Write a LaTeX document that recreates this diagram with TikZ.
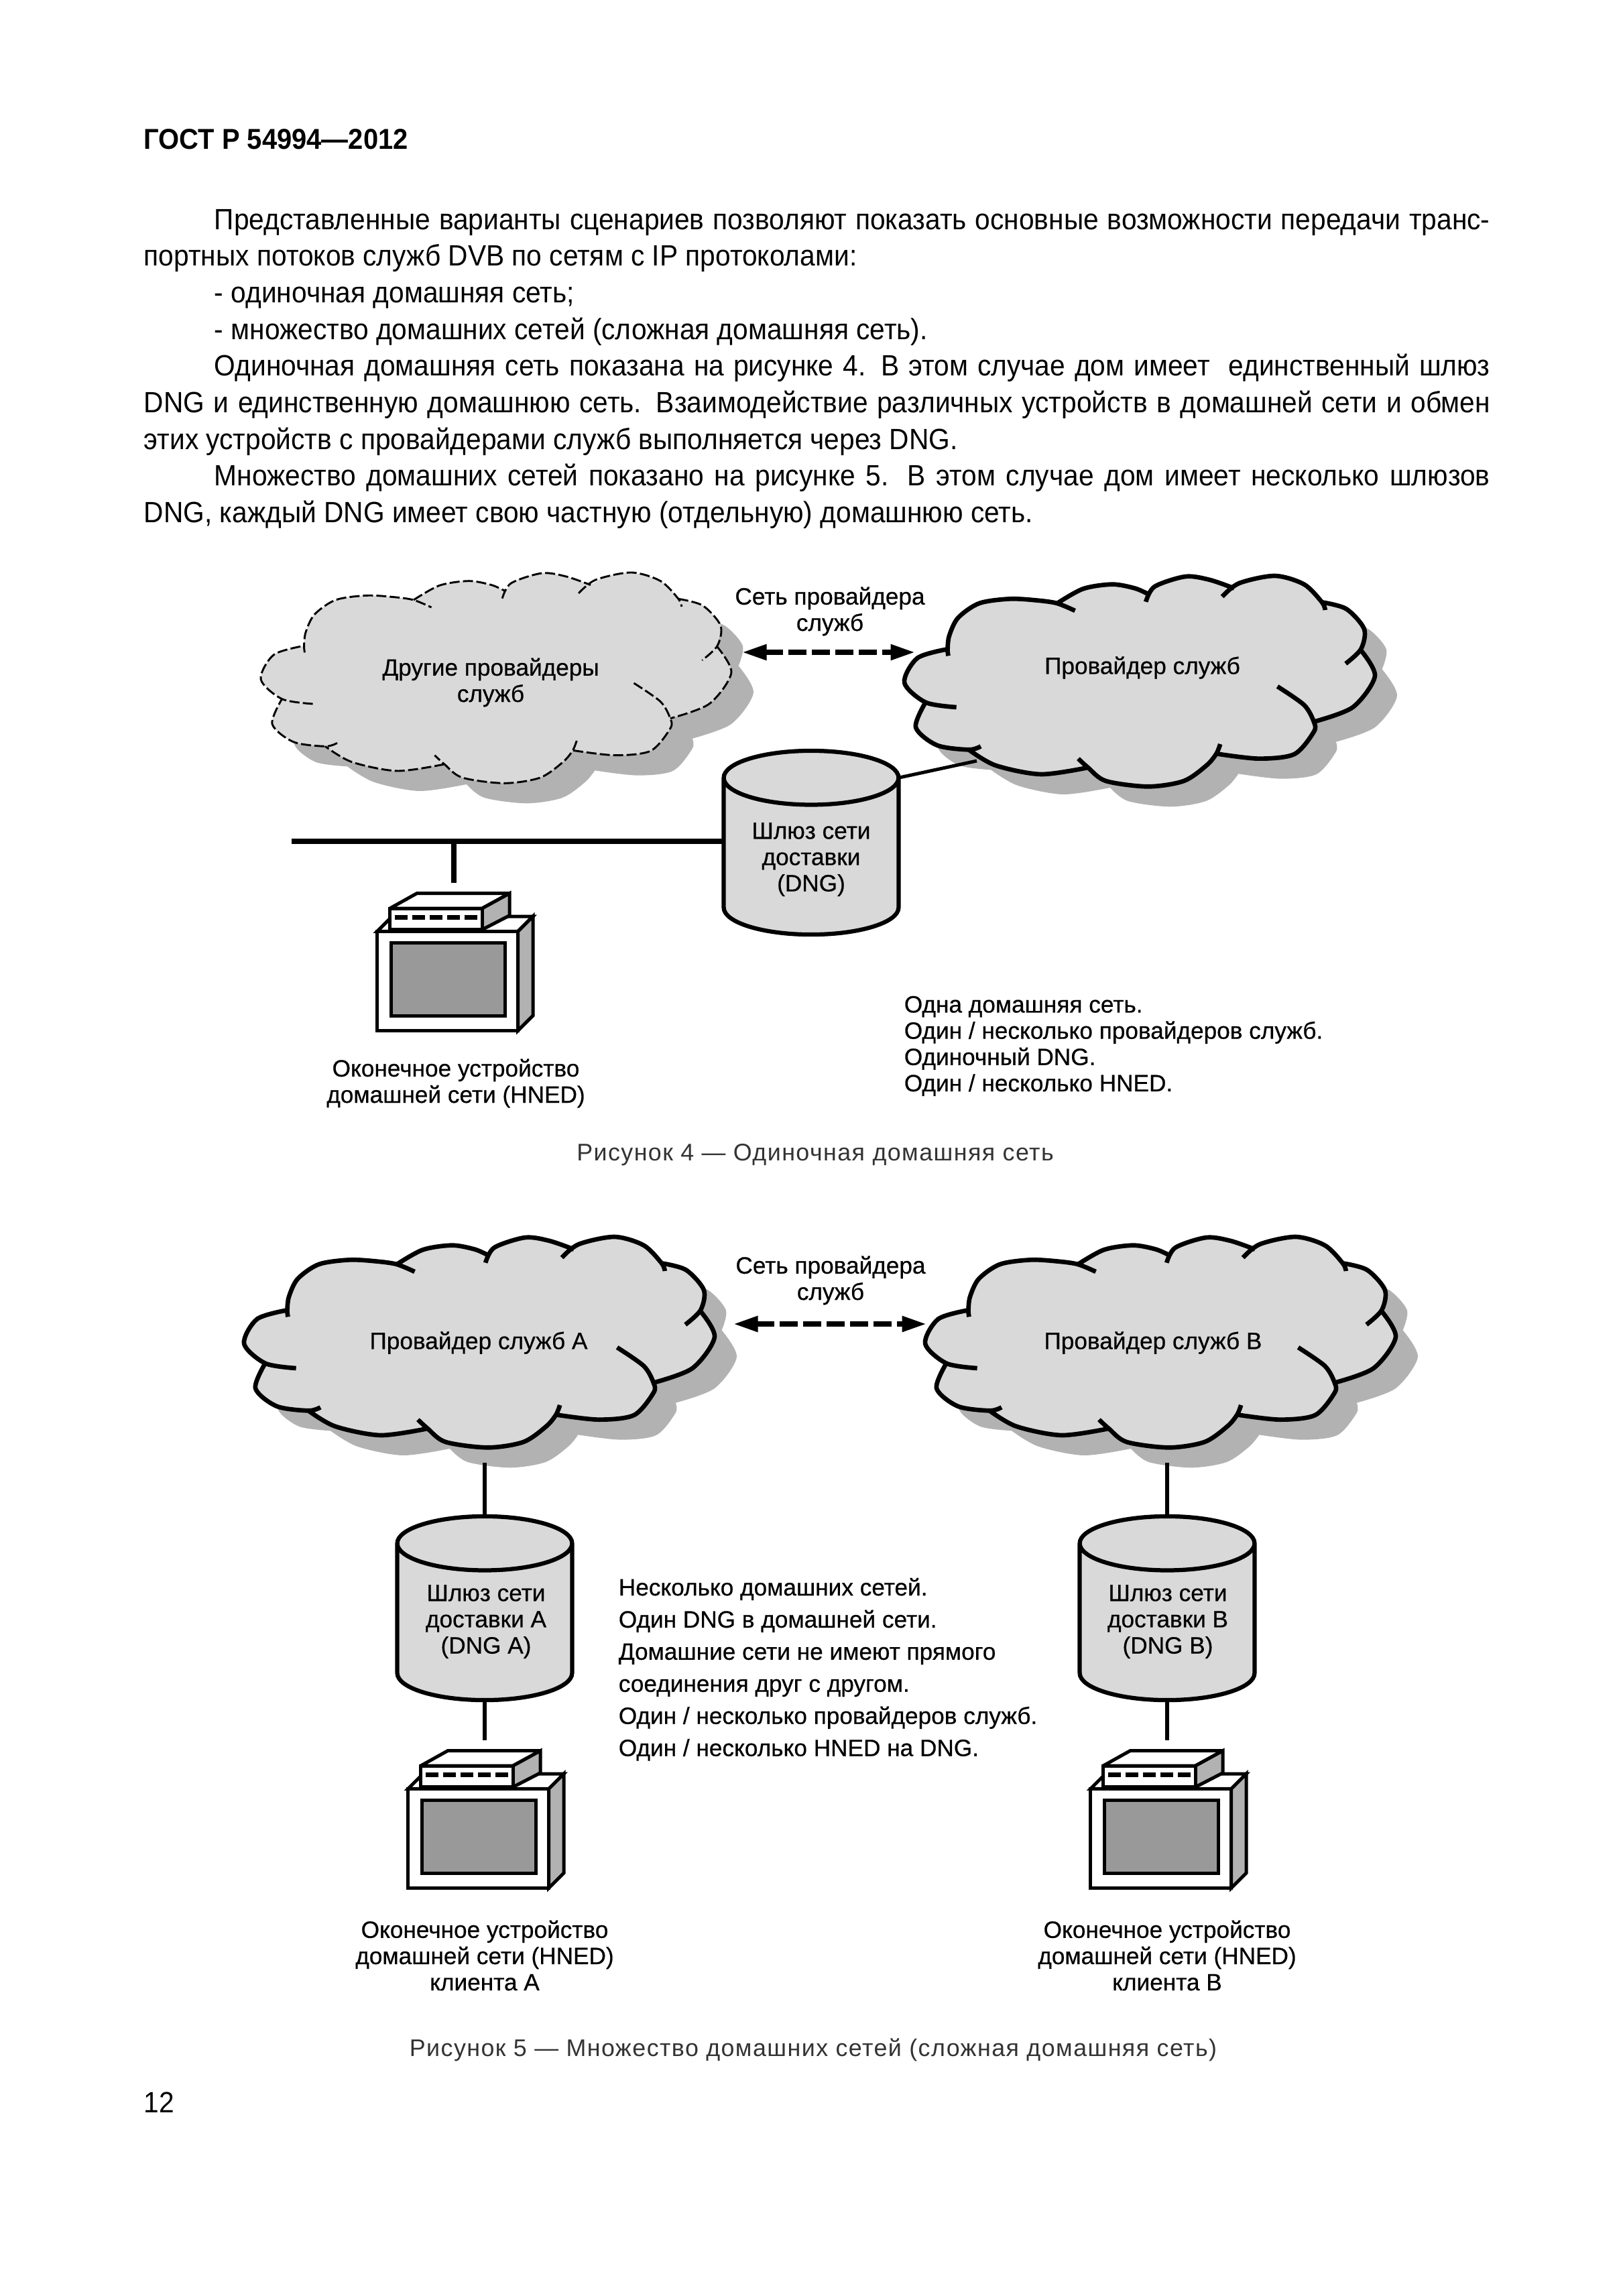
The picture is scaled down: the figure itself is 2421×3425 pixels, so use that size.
\documentclass[tikz,border=0pt]{standalone}
\usepackage{fontspec}
\setmainfont[FakeStretch=0.93]{Liberation Sans}
\newfontfamily\lblfamily[FakeBold=0.55]{Liberation Sans}
\newfontfamily\capfamily[LetterSpace=4]{Liberation Sans}
\usepackage{tikz}
\usetikzlibrary{arrows.meta, shapes.geometric}
\definecolor{cloudfill}{HTML}{D9D9D9}
\definecolor{cloudshade}{HTML}{B2B2B2}
\definecolor{screenfill}{HTML}{999999}
\definecolor{captiongray}{HTML}{333333}
\newcommand{\jline}[2]{\makebox[#1][s]{#2}}
% outer contour of the cloud, without the inner hooks
\newcommand{\cloudrim}{plot[smooth] coordinates {(193,340)(198,280)(225,200)(290,135)(385,115)(470,122)(530,135)}
  -- plot[smooth] coordinates {(530,135)(610,70)(700,50)(770,68)(812,95)}
  -- plot[smooth] coordinates {(812,95)(850,45)(925,15)(1000,30)(1075,68)}
  -- plot[smooth] coordinates {(1075,68)(1120,32)(1200,12)(1290,50)(1345,130)}
  -- plot[smooth] coordinates {(1345,130)(1420,160)(1475,250)(1462,340)}
  -- plot[smooth] coordinates {(1462,340)(1508,460)(1440,600)(1320,665)}
  -- plot[smooth] coordinates {(1320,665)(1320,710)(1260,810)(1150,830)(1020,808)}
  -- plot[smooth] coordinates {(1020,808)(990,860)(920,930)(810,955)(680,930)(625,870)}
  -- plot[smooth] coordinates {(625,870)(480,900)(340,860)(258,790)}
  -- plot[smooth] coordinates {(258,790)(160,770)(95,690)(125,578)}
  -- plot[smooth] coordinates {(125,578)(60,490)(100,380)(193,340)} -- cycle}
\tikzset{
  cloudpic/.pic={
    \begin{scope}[xscale=0.4847, yscale=0.3333]
      \fill[cloudshade, shift={(68,90)}] \cloudrim;
      \fill[cloudfill] \cloudrim;
      \draw[pic actions]
        plot[smooth] coordinates {(195,370)(193,340)(198,280)(225,200)(290,135)(385,115)(470,122)(530,135)(585,168)}
        plot[smooth] coordinates {(530,135)(610,70)(700,50)(770,68)(812,95)}
        plot[smooth] coordinates {(803,128)(830,60)(925,15)(1000,30)(1075,68)}
        plot[smooth] coordinates {(1038,105)(1090,45)(1200,12)(1290,50)(1345,130)(1355,165)}
        plot[smooth] coordinates {(1345,130)(1420,160)(1475,250)(1465,340)(1418,405)}
        plot[smooth] coordinates {(1462,340)(1508,460)(1440,600)(1320,665)}
        plot[smooth] coordinates {(1208,507)(1290,590)(1320,665)(1320,710)(1260,810)(1150,830)(1020,808)}
        plot[smooth] coordinates {(1032,765)(1020,808)(990,860)(920,930)(810,955)(680,930)(625,870)(595,830)}
        plot[smooth] coordinates {(625,870)(480,900)(340,860)(258,790)}
        plot[smooth] coordinates {(295,775)(258,790)(160,770)(95,690)(125,578)}
        plot[smooth] coordinates {(220,600)(125,578)(60,490)(100,380)(193,340)};
    \end{scope}
  },
  hnedpic/.pic={
    \coordinate (-top) at (0,0);
    \draw[iconline, fill=white] (-114.3,72.3) -- (-92,50) -- (118,50) -- (95.7,72.3) -- cycle;
    \draw[iconline, fill=cloudshade] (95.7,72.3) -- (118,50) -- (118,198) -- (95.7,220.3) -- cycle;
    \draw[iconline, fill=white] (-114.3,72.3) rectangle (95.7,220.3);
    \draw[iconline, fill=screenfill] (-93.3,89.7) rectangle (76.3,198);
    \draw[iconline, fill=white] (-95.3,38) -- (-55.3,15.7) -- (83,15.7) -- (42.3,38) -- cycle;
    \draw[iconline, fill=cloudshade] (42.3,38) -- (83,15.7) -- (83,48.7) -- (42.3,69.7) -- cycle;
    \draw[iconline, fill=white] (-95.3,38) rectangle (42.3,69.7);
    \draw[line width=1.68pt, dash pattern=on 4.63pt off 1.6pt] (-88,51.3) -- (34.7,51.3);
  }
}
\begin{document}
\begin{tikzpicture}[
    x=0.24pt, y=-0.24pt,
    iconline/.style={line width=1.2pt, miter limit=3},
    solidcloud/.style={line width=1.6pt},
    dashcloud/.style={line width=0.7pt, dash pattern=on 3.6pt off 1.2pt},
    gwbox/.style={
        cylinder,
        shape border rotate=90,
        anchor=shape center,
        draw,
        fill=cloudfill,
        line width=1.5pt,
        shape aspect=2.9,
        minimum width=62.6pt,
        minimum height=65.8pt,
        outer sep=0pt
    },
    link/.style={line width=1.5pt},
    spnlink/.style={line width=2.1pt, dash pattern=on 6.5pt off 1.9pt,
        {Triangle[length=9pt,width=5.2pt]}-{Triangle[length=9pt,width=5.2pt]}},
    lbl/.style={font=\lblfamily\fontsize{8.45}{9.4}\selectfont, align=center, inner sep=0pt},
    notes/.style={lbl, align=left, anchor=north west},
    bodyline/.style={font=\fontsize{10.5}{12}\selectfont, anchor=base west, inner sep=0pt},
    caption/.style={font=\capfamily\fontsize{8.6}{10}\selectfont, text=captiongray, inner sep=0pt}
]
\useasboundingbox (0,0) rectangle (2421,3425);

\node[font=\bfseries\fontsize{10.3}{12}\selectfont, anchor=base west, inner sep=0pt] (header) at (214,222) {ГОСТ Р 54994—2012};

\node[bodyline] (line1) at (319,342) {\jline{456.7pt}{Представленные варианты сценариев позволяют показать основные возможности передачи транс-}};
\node[bodyline] (line2) at (214,396.7) {портных потоков служб DVB по сетям с IP протоколами:};
\node[bodyline] (line3) at (319,451.4) {- одиночная домашняя сеть;};
\node[bodyline] (line4) at (319,506.1) {- множество домашних сетей (сложная домашняя сеть).};
\node[bodyline] (line5) at (319,560.8) {\jline{456.7pt}{Одиночная домашняя сеть показана на рисунке 4. В этом случае дом имеет~ единственный шлюз}};
\node[bodyline] (line6) at (214,615.5) {\jline{481.9pt}{DNG и единственную домашнюю сеть. Взаимодействие различных устройств в домашней сети и обмен}};
\node[bodyline] (line7) at (214,670.2) {этих устройств с провайдерами служб выполняется через DNG.};
\node[bodyline] (line8) at (319,724.9) {\jline{456.7pt}{Множество домашних сетей показано на рисунке 5. В этом случае дом имеет несколько шлюзов}};
\node[bodyline] (line9) at (214,779.6) {DNG, каждый DNG имеет свою частную (отдельную) домашнюю сеть.};

% first figure
\pic[dashcloud] (others) at (360,850) {cloudpic};
\pic[solidcloud] (prov) at (1320,855) {cloudpic};
\node[lbl] (othertxt) at (732,1018) {Другие провайдеры\\служб};
\node[lbl] (provtxt) at (1704,996) {Провайдер служб};
\node[lbl] (spntxt) at (1238,912) {Сеть провайдера\\служб};
\coordinate (spnleft) at (1106,973);
\coordinate (spnright) at (1366,973);
\draw[spnlink] (spnleft) -- (spnright);

\node[gwbox] (gw) at (1210,1257) {};
\node[lbl] (gwtxt) at (1210,1282) {Шлюз сети\\доставки\\(DNG)};
\coordinate (provstub) at (1457,1135);
\draw[link, line width=1.2pt] (gw.after top) -- (provstub);

\coordinate (busstart) at (435,1255);
\coordinate (busdrop) at (677,1255);
\draw[link, line width=1.7pt] (busstart) -- (gw.west |- busstart);
\pic (hned) at (677,1317) {hnedpic};
\draw[link, line width=1.7pt] (busdrop) -- (hned-top);
\node[lbl] (hnedtxt) at (680,1616) {Оконечное устройство\\домашней сети (HNED)};
\node[notes] (notesone) at (1348,1485) {Одна домашняя сеть.\\Один / несколько провайдеров служб.\\Одиночный DNG.\\Один / несколько HNED.};
\node[caption] (capone) at (1216,1723) {Рисунок 4 — Одиночная домашняя сеть};

% second figure
\pic[solidcloud] (provA) at (335,1841) {cloudpic};
\pic[solidcloud] (provB) at (1351,1841) {cloudpic};
\node[lbl] (provAtxt) at (714,2003) {Провайдер служб А};
\node[lbl] (provBtxt) at (1720,2003) {Провайдер служб В};
\node[lbl] (spnAtxt) at (1239,1910) {Сеть провайдера\\служб};
\coordinate (spnA) at (1093,1975);
\coordinate (spnB) at (1383,1975);
\draw[spnlink] (spnA) -- (spnB);

\node[gwbox] (gwA) at (723,2399) {};
\node[gwbox] (gwB) at (1741,2399) {};
\node[lbl] (gwAtxt) at (725,2419) {Шлюз сети\\доставки А\\(DNG A)};
\node[lbl] (gwBtxt) at (1742,2419) {Шлюз сети\\доставки В\\(DNG B)};
\coordinate (stubA) at (723,2182);
\coordinate (stubB) at (1741,2182);
\draw[link] (stubA) -- (gwA.top);
\draw[link] (stubB) -- (gwB.top);

\pic (hnedA) at (723,2596) {hnedpic};
\pic (hnedB) at (1741,2596) {hnedpic};
\draw[link] (gwA.bottom) -- (hnedA-top);
\draw[link] (gwB.bottom) -- (hnedB-top);
\node[lbl] (hnedAtxt) at (723,2917) {Оконечное устройство\\домашней сети (HNED)\\клиента А};
\node[lbl] (hnedBtxt) at (1741,2917) {Оконечное устройство\\домашней сети (HNED)\\клиента В};
\node[notes, font=\lblfamily\fontsize{8.45}{11.5}\selectfont] (notestwo) at (922,2353) {Несколько домашних сетей.\\Один DNG в домашней сети.\\Домашние сети не имеют прямого\\соединения друг с другом.\\Один / несколько провайдеров служб.\\Один / несколько HNED на DNG.};
\node[caption] (captwo) at (1213,3058) {Рисунок 5 — Множество домашних сетей (сложная домашняя сеть)};

\node[bodyline] (pagenum) at (214,3151) {12};
\end{tikzpicture}
\end{document}
